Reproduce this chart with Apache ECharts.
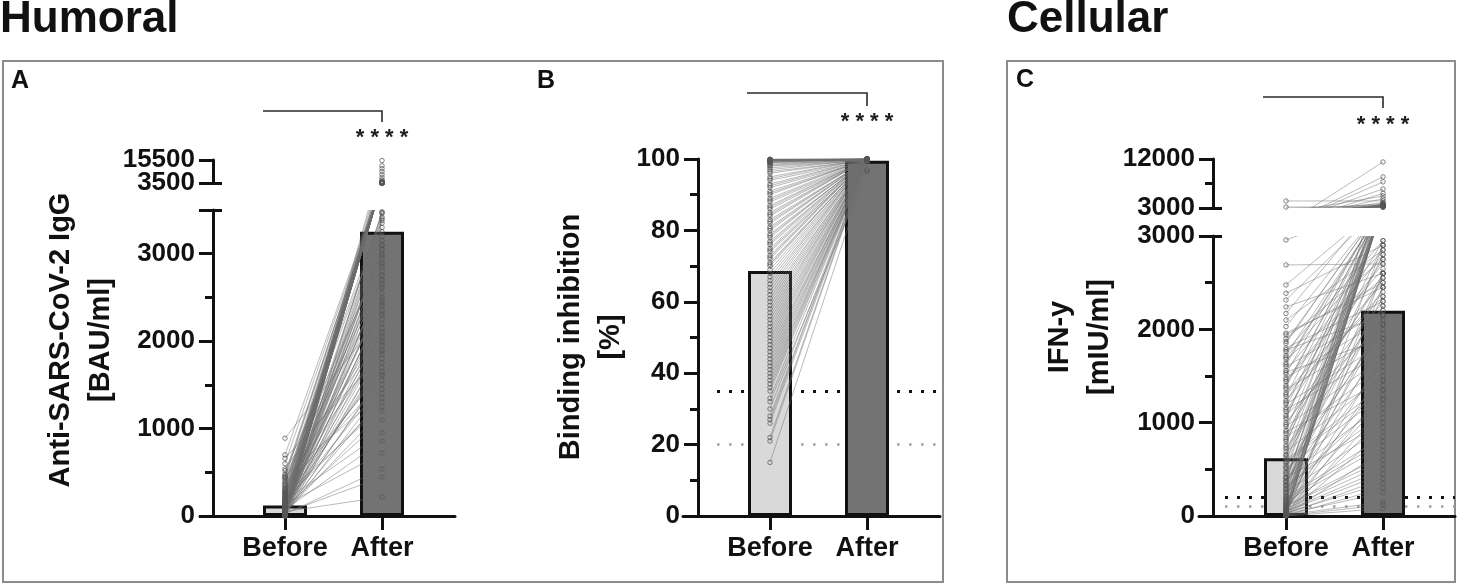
<!DOCTYPE html>
<html lang="en">
<head>
<meta charset="utf-8">
<title>Humoral / Cellular</title>
<style>
  html, body { margin: 0; padding: 0; background: #fff; }
  #main { width: 1457px; height: 587px; }
</style>
</head>
<body>
<div id="main"></div>
<script src="https://cdn.jsdelivr.net/npm/echarts@6/dist/echarts.min.js"></script>
<script>
var groups = ['Before', 'After'];

// A - anti-SARS-CoV-2 IgG [BAU/ml], paired before / after
var aBefore = [
  890, 700, 660, 520, 480, 460, 430, 410, 390, 370,
  350, 330, 310, 300, 290, 280, 270, 260, 250, 240,
  230, 220, 210, 200, 195, 190, 180, 175, 170, 160,
  155, 150, 145, 140, 135, 130, 125, 120, 115, 110,
  105, 100, 95, 90, 85, 80, 75, 70, 65, 60,
  58, 55, 52, 50, 48, 45, 42, 40, 38, 35,
  32, 30, 28, 25, 22, 20, 18, 15, 12, 10,
  8, 6, 5, 4, 3, 2, 2, 1, 1, 0,
  600, 540, 450, 440, 360, 320, 265, 245, 215, 185,
  165, 138, 128, 118, 108, 98, 88, 78, 72, 68,
  62, 56, 46, 44, 36, 33, 29, 26, 24, 21,
  19, 16, 14, 11, 9, 7, 5, 3, 1, 0
];
var aAfter = [
  2300, 3650, 1850, 2950, 3560, 1400, 3720, 2600, 3460, 1950,
  3800, 2200, 4200, 1650, 3600, 3050, 5200, 2450, 3900, 1250,
  3580, 2750, 3620, 1700, 4100, 2100, 3700, 950, 3550, 2350,
  8000, 3420, 1500, 3800, 2650, 3600, 720, 3950, 2000, 3640,
  2850, 1100, 3750, 2500, 12500, 3200, 1800, 3580, 2700, 15200,
  3380, 2150, 3850, 217, 3100, 1350, 4500, 2550, 3660, 446,
  2900, 6500, 1600, 3700, 537, 2400, 3570, 3300, 1900, 3900,
  2250, 9500, 3000, 3480, 1450, 3600, 2800, 11000, 3680, 3350,
  3520, 2050, 3610, 2750, 3400, 1550, 3690, 2880, 3560, 1300,
  3770, 2480, 3540, 1750, 3050, 3630, 2320, 3710, 860, 2980,
  3590, 2620, 3830, 1200, 3150, 3550, 2080, 3470, 1980, 3640,
  2700, 3600, 1620, 3250, 3760, 2420, 3530, 3090, 1880, 3600
];
var aMean = [120, 3250];

// B - binding inhibition [%]
var bBefore = [
  15, 21, 22, 26, 27, 28, 32, 35, 37, 39,
  41, 43, 45, 47, 48, 50, 52, 53, 55, 57,
  58, 60, 61, 62, 64, 65, 66, 68, 69, 70,
  71, 72, 73, 74, 75, 76, 77, 78, 79, 80,
  81, 82, 83, 84, 85, 86, 87, 88, 89, 90,
  91, 92, 93, 94, 95, 96, 97, 98, 98.5, 99,
  99.2, 99.4, 99.5, 99.6, 99.7, 99.7, 99.8, 99.8, 99.8, 99.9,
  30, 33, 36, 38, 40, 42, 44, 46, 49, 51,
  54, 56, 59, 63, 67, 70.5, 72.5, 74.5, 76.5, 78.5,
  80.5, 82.5, 84.5, 86.5, 88.5, 90.5, 92.5, 94.5, 96.5, 97.5,
  98.2, 98.8, 99.1, 99.3, 99.5, 99.6, 99.7, 99.8, 99.9, 99.9
];
var bAfter = [
  97.0, 99.6, 99.8, 99.2, 99.9, 99.5, 96.5, 99.7, 99.9, 99.4,
  99.8, 99.6, 100, 99.3, 99.9, 99.7, 99.8, 99.5, 100, 99.6,
  99.9, 99.7, 99.8, 99.4, 99.9, 100, 99.6, 99.8, 99.7, 99.9,
  99.5, 100, 99.8, 99.6, 99.9, 99.7, 99.8, 100, 99.5, 99.9,
  99.7, 99.8, 99.6, 100, 99.9, 99.7, 99.8, 99.5, 99.9, 100,
  99.8, 99.6, 99.9, 99.7, 100, 99.8, 99.9, 99.6, 99.9, 100,
  99.8, 99.9, 99.7, 100, 99.9, 99.8, 100, 99.9, 99.7, 100,
  99.6, 99.8, 99.7, 99.9, 99.5, 100, 99.8, 99.6, 99.9, 99.7,
  99.8, 100, 99.6, 99.9, 99.7, 99.8, 100, 99.5, 99.9, 99.7,
  99.8, 99.6, 100, 99.9, 99.7, 99.8, 99.9, 100, 99.6, 99.8,
  99.9, 99.7, 100, 99.8, 99.9, 100, 99.8, 99.9, 100, 99.9
];
var bMean = [68.6, 99.5];
var bCutoffs = [35, 20];

// C - IFN-y [mIU/ml]
var cBefore = [
  4290, 3180, 2958, 2690, 2476, 2386, 2315, 2240, 2170, 2100,
  2030, 1960, 1900, 1850, 1800, 1760, 1720, 1680, 1640, 1600,
  1560, 1520, 1480, 1440, 1400, 1360, 1320, 1280, 1240, 1200,
  1160, 1120, 1080, 1040, 1000, 960, 920, 880, 840, 800,
  760, 720, 690, 660, 630, 600, 570, 540, 510, 480,
  450, 420, 400, 380, 360, 340, 320, 300, 280, 260,
  240, 220, 200, 185, 170, 155, 140, 125, 110, 100,
  90, 80, 70, 60, 50, 45, 40, 35, 30, 25,
  20, 18, 15, 12, 10, 8, 6, 4, 2, 0,
  1940, 1870, 1780, 1700, 1620, 1540, 1460, 1380, 1300, 1220,
  1140, 1060, 980, 900, 820, 740, 650, 580, 520, 460,
  410, 370, 330, 290, 250, 210, 180, 150, 130, 105,
  85, 65, 55, 42, 32, 22, 14, 9, 5, 1
];
var cAfter = [
  4300, 3200, 3500, 2700, 3800, 2900, 3400, 2600, 5200, 2850,
  3300, 2450, 2750, 3600, 2300, 2950, 3100, 2550, 3450, 2200,
  2800, 4000, 2100, 2650, 3350, 1950, 2500, 3700, 2400, 1850,
  3250, 2750, 2050, 3550, 2300, 1700, 3400, 2600, 1600, 2900,
  4700, 2150, 1500, 3300, 2450, 1400, 3500, 2000, 1300, 3600,
  2350, 1200, 3400, 1800, 6500, 2250, 1100, 3450, 1650, 950,
  3550, 2050, 850, 3350, 1450, 750, 3650, 1900, 650, 3500,
  1250, 550, 8700, 1550, 450, 3300, 1050, 350, 11450, 1350,
  250, 3600, 900, 150, 5700, 700, 3400, 120, 7800, 80,
  2500, 3450, 2150, 2850, 3300, 1900, 2700, 3600, 2350, 2950,
  1750, 3400, 2550, 1450, 3500, 2250, 2800, 1350, 3350, 2050,
  1000, 3700, 2600, 1250, 3300, 2900, 800, 3550, 2150, 600,
  3400, 1700, 500, 3250, 2450, 400, 3600, 1150, 300, 2600
];
var cMean = [620, 2200];
var cCutoffs = [200, 100];

var FONT = '"Liberation Sans", Arial, Helvetica, sans-serif';
var INK = '#111';
var UNIT = 97; // px between Before and After

var chart = echarts.init(document.getElementById('main'));

// grids: 0 A low, 1 A high, 2 B, 3 C low, 4 C high
var grids = [
  { left: 200, top: 210, width: 255, height: 306 },
  { left: 200, top: 160, width: 255, height: 23 },
  { left: 683, top: 159, width: 257, height: 357 },
  { left: 1199, top: 236, width: 256, height: 280 },
  { left: 1199, top: 159, width: 256, height: 49 }
];
var beforeOffset = [85, 85, 87, 87, 87];
var axisOffset = [-13, -13, -15, -14, -14];
var labelFont = { color: INK, fontSize: 26, fontWeight: 'bold', fontFamily: FONT };

function xAxisFor(i, show) {
  var min = 1 - beforeOffset[i] / UNIT;
  return {
    type: 'value', gridIndex: i, show: show,
    min: min, max: min + grids[i].width / UNIT,
    splitLine: { show: false },
    axisLine: { onZero: false, lineStyle: { color: INK, width: 3 } },
    axisTick: { customValues: [1, 2], length: 14, lineStyle: { color: INK, width: 3 } },
    axisLabel: {
      customValues: [1, 2], margin: 19,
      formatter: function (v) { return groups[Math.round(v) - 1]; },
      color: INK, fontSize: 27, fontWeight: 'bold', fontFamily: FONT
    }
  };
}

function yAxisFor(i, opt) {
  var ax = {
    type: 'value', gridIndex: i, position: 'left', min: opt.min, max: opt.max, offset: axisOffset[i],
    splitLine: { show: false },
    axisLine: { show: true, onZero: false, lineStyle: { color: INK, width: 3 } },
    axisTick: { show: true, length: 14, lineStyle: { color: INK, width: 3 } },
    axisLabel: Object.assign({
      margin: 18, hideOverlap: false, showMinLabel: true, showMaxLabel: true,
      formatter: function (v) { return opt.hideMax && v === opt.max ? '' : String(v); }
    }, labelFont)
  };
  if (opt.interval) ax.interval = opt.interval;
  if (opt.minor) ax.minorTick = { show: true, splitNumber: 2, length: 8, lineStyle: { color: INK, width: 3 } };
  if (opt.ticks) ax.axisTick.customValues = opt.ticks;
  if (opt.labels) ax.axisLabel.customValues = opt.labels;
  return ax;
}

// extra axes that only carry ticks (break caps, short middle tick) or one label
function extraAxis(i, min, max, at, inside, len, withLabel) {
  var ax = {
    type: 'value', gridIndex: i, position: 'left', min: min, max: max, offset: axisOffset[i],
    splitLine: { show: false },
    axisLine: { show: false, onZero: false },
    axisTick: { show: len > 0, inside: inside, length: len, customValues: at, lineStyle: { color: INK, width: 3 } },
    axisLabel: { show: false }
  };
  if (withLabel) {
    ax.axisLabel = Object.assign({ show: true, margin: 18, customValues: at, formatter: function (v) { return String(v); } }, labelFont);
  }
  return ax;
}

var xAxes = [xAxisFor(0, true), xAxisFor(1, false), xAxisFor(2, true), xAxisFor(3, true), xAxisFor(4, false)];
var yAxes = [
  yAxisFor(0, { min: 0, max: 3500, interval: 1000, minor: true, hideMax: true }),
  yAxisFor(1, { min: 3500, max: 15500, ticks: [3500, 15500], labels: [3500] }),
  yAxisFor(2, { min: 0, max: 100, interval: 20, minor: true }),
  yAxisFor(3, { min: 0, max: 3000, interval: 1000, minor: true }),
  yAxisFor(4, { min: 3000, max: 12000, ticks: [3000, 12000], labels: [3000, 12000] }),
  extraAxis(1, 3500, 15500, [15500], false, 0, true),
  extraAxis(0, 0, 3500, [3500], true, 9),
  extraAxis(1, 3500, 15500, [3500], true, 9),
  extraAxis(3, 0, 3000, [3000], true, 9),
  extraAxis(4, 3000, 12000, [3000], true, 9),
  extraAxis(4, 3000, 12000, [7500], false, 8)
];

// panels: lower grid, optional upper grid for the broken axis
var panels = [
  { before: aBefore, after: aAfter, mean: aMean, lo: 0, hi: 1, split: 3500, clip: true, upperLines: false },
  { before: bBefore, after: bAfter, mean: bMean, lo: 2, hi: null, split: Infinity, clip: false, cut: bCutoffs, cutFrom: 0.454 },
  { before: cBefore, after: cAfter, mean: cMean, lo: 3, hi: 4, split: 3000, clip: true, upperLines: true, cut: cCutoffs, cutFrom: 0.371 }
];

function toPixel(p, x, v, api) {
  if (p.hi != null && v > p.split) {
    return chart.convertToPixel({ xAxisIndex: p.hi, yAxisIndex: p.hi }, [x, v]);
  }
  return api.coord([x, v]);
}

var lineStyle = { stroke: '#6e6e6e', lineWidth: 0.8, opacity: 0.6 };

var series = [];
panels.forEach(function (p) {
  var pairs = p.before.map(function (b, i) { return [b, p.after[i]]; });
  var bar = {
    type: 'bar', xAxisIndex: p.lo, yAxisIndex: p.lo, barWidth: 44, z: 2, silent: true,
    data: [
      { value: [1, p.mean[0]], itemStyle: { color: '#d9d9d9' } },
      { value: [2, p.mean[1]], itemStyle: { color: '#737373' } }
    ],
    itemStyle: { borderColor: INK, borderWidth: 3 }
  };
  if (p.cut) {
    var xmax = xAxes[p.lo].max;
    bar.markLine = {
      z: 1, silent: true, symbol: ['none', 'none'], label: { show: false },
      data: [
        [{ coord: [p.cutFrom, p.cut[0]], lineStyle: { color: '#111111', width: 3, type: [3, 9] } }, { coord: [xmax, p.cut[0]] }],
        [{ coord: [p.cutFrom, p.cut[1]], lineStyle: { color: '#a0a0a0', width: 2.5, type: [2.5, 9.5] } }, { coord: [xmax, p.cut[1]] }]
      ]
    };
  }
  series.push(bar);

  // lower part: straight screen line towards the real position of each point
  series.push({
    type: 'custom', xAxisIndex: p.lo, yAxisIndex: p.lo, z: 3, silent: true, clip: p.clip,
    data: pairs,
    renderItem: function (params, api) {
      var p0 = toPixel(p, 1, api.value(0), api);
      var p1 = toPixel(p, 2, api.value(1), api);
      return { type: 'line', shape: { x1: p0[0], y1: p0[1], x2: p1[0], y2: p1[1] }, style: lineStyle };
    }
  });
  // upper part: same pairs on the upper segment's own scale
  if (p.upperLines) {
    series.push({
      type: 'custom', xAxisIndex: p.hi, yAxisIndex: p.hi, z: 3, silent: true, clip: true,
      data: pairs,
      renderItem: function (params, api) {
        var p0 = api.coord([1, api.value(0)]);
        var p1 = api.coord([2, api.value(1)]);
        return { type: 'line', shape: { x1: p0[0], y1: p0[1], x2: p1[0], y2: p1[1] }, style: lineStyle };
      }
    });
  }

  var pts = p.before.map(function (b) { return [1, b]; })
    .concat(p.after.map(function (a) { return [2, a]; }));
  var idx = p.hi != null ? [p.lo, p.hi] : [p.lo];
  idx.forEach(function (g) {
    series.push({
      type: 'scatter', xAxisIndex: g, yAxisIndex: g, z: 4, silent: true, clip: true,
      symbol: 'circle', symbolSize: 4.5, data: pts,
      itemStyle: { color: 'rgba(0,0,0,0)', borderColor: '#555555', borderWidth: 0.9 }
    });
  });
});

function label(x, y, text, size, extra) {
  var el = {
    type: 'text', x: x, y: y, silent: true,
    style: {
      text: text, fill: INK, font: 'bold ' + size + 'px ' + FONT,
      textAlign: 'left', textVerticalAlign: 'middle'
    }
  };
  if (extra) Object.keys(extra).forEach(function (k) { el.style[k] = extra[k]; });
  return el;
}
function axisTitle(x, y, text) {
  var el = label(x, y, text, 29, { textAlign: 'center', lineHeight: 40 });
  el.rotation = Math.PI / 2;
  return el;
}
function bracket(x1, x2, y, y2) {
  return {
    type: 'polyline', silent: true,
    shape: { points: [[x1, y], [x2, y], [x2, y2]] },
    style: { stroke: '#2a2a2a', lineWidth: 1.6, fill: null }
  };
}
function stars(x, y) {
  return {
    type: 'text', x: x, y: y, silent: true,
    style: { text: '* * * *', fill: '#1e1e1e', font: 'bold 22px ' + FONT, textAlign: 'center', textVerticalAlign: 'middle' }
  };
}
function box(x, y, w, h) {
  return {
    type: 'rect', silent: true, shape: { x: x, y: y, width: w, height: h },
    style: { stroke: '#8c8c8c', lineWidth: 2, fill: null }
  };
}

var graphics = [
  box(3, 61, 940, 521),
  box(1007, 61, 448, 521),
  label(0, 20, 'Humoral', 44),
  label(1007, 20, 'Cellular', 44),
  label(11, 81, 'A', 25),
  label(537, 81, 'B', 25),
  label(1016, 80, 'C', 25),
  axisTitle(81, 340, 'Anti-SARS-CoV-2 IgG\n[BAU/ml]'),
  axisTitle(591, 337, 'Binding inhibition\n[%]'),
  axisTitle(1080, 337, 'IFN-y\n[mIU/ml]'),
  bracket(263, 382, 111, 122),
  bracket(747, 867, 93, 106),
  bracket(1263, 1383, 97, 108),
  stars(382, 138),
  stars(867, 122),
  stars(1383, 125)
];

chart.setOption({
  animation: false,
  backgroundColor: '#ffffff',
  grid: grids,
  xAxis: xAxes,
  yAxis: yAxes,
  series: series,
  graphic: { elements: graphics }
});
</script>
</body>
</html>
